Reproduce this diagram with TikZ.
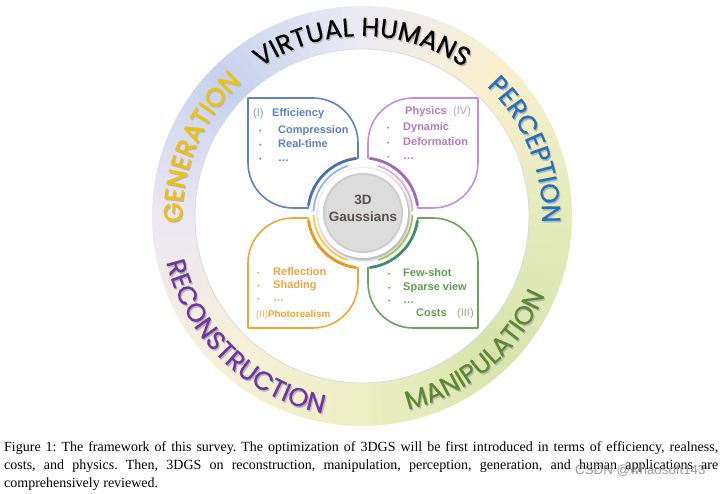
\documentclass[tikz,border=0pt]{standalone}
\usepackage{fontspec}
\setmainfont{Liberation Serif}
\newfontfamily\petalfont{Liberation Sans}
\newfontfamily\ringfont{Poppins}[FakeBold=0.5]
\usetikzlibrary{decorations.text,calc}

\definecolor{rcA}{HTML}{E4EBBC}
\definecolor{rcB}{HTML}{FAF0CC}
\definecolor{rcC}{HTML}{ECEBF5}
\definecolor{rcD}{HTML}{C6D2EE}
\definecolor{rcE}{HTML}{ECE7F2}
\definecolor{rcF}{HTML}{F7F0DA}
\definecolor{rcG}{HTML}{ECEFC2}
\definecolor{rcH}{HTML}{D8E4AC}

\definecolor{percol}{HTML}{2372B9}
\definecolor{gencol}{HTML}{F2C200}
\definecolor{reccol}{HTML}{7233A3}
\definecolor{mancol}{HTML}{5C8A2F}

\definecolor{pBlue}{HTML}{5E82C4}
\definecolor{pBlueD}{HTML}{4A6FB5}
\definecolor{pBlueL}{HTML}{93B6E4}
\definecolor{tBlue}{HTML}{5B7FC2}
\definecolor{tBlueL}{HTML}{8098CC}
\definecolor{pPur}{HTML}{C391CF}
\definecolor{pPurD}{HTML}{9C6AB6}
\definecolor{pPurL}{HTML}{D2B2DE}
\definecolor{tPur}{HTML}{B27CC0}
\definecolor{tPurL}{HTML}{C49BD0}
\definecolor{pOra}{HTML}{EDA834}
\definecolor{pOraD}{HTML}{E8961C}
\definecolor{pOraL}{HTML}{F6C846}
\definecolor{tOra}{HTML}{EBA43A}
\definecolor{tOraL}{HTML}{EDB255}
\definecolor{pGre}{HTML}{6AA35A}
\definecolor{pGreD}{HTML}{3E8C72}
\definecolor{pGreL}{HTML}{9CCB4A}
\definecolor{tGre}{HTML}{5E9E4E}
\definecolor{tGreL}{HTML}{7FB06F}
\definecolor{discgray}{HTML}{DCDCDC}
\definecolor{disctext}{HTML}{594F4F}

\newcommand{\ringfmt}{\ringfont\fontsize{26}{26}\selectfont}
\newcommand{\arctext}[5]{%
\path[decorate,decoration={text along path,text align=center,text={|\ringfmt\color{black!28}|#5}}] ($(rc)+(1.2,-1.6)+(#3:#2)$) arc[start angle=#3,end angle=#4,radius=#2];
\path[decorate,decoration={text along path,text align=center,text={|\ringfmt\color{#1}|#5}}] ($(rc)+(#3:#2)$) arc[start angle=#3,end angle=#4,radius=#2];}

\newcommand{\petalpath}{(-5,54.77) -- (-5,70) arc[start angle=0,end angle=90,radius=45] -- (-115,115) -- (-115,50) arc[start angle=180,end angle=270,radius=45] -- (-54.77,5) arc[start angle=174.78,end angle=95.22,radius=55] -- cycle}

\tikzset{
  ptxt/.style={font=\petalfont\fontsize{11}{13}\selectfont\bfseries, anchor=base west, inner sep=0pt},
  pnum/.style={font=\petalfont\fontsize{11}{13}\selectfont, anchor=base west, inner sep=0pt},
  pbul/.style={font=\petalfont\fontsize{7}{8}\selectfont, anchor=base west, inner sep=0pt},
  petal/.style={line width=1.6pt, line join=round},
  thickarc/.style={line width=2.8pt},
  thinarc/.style={line width=1.8pt},
  captxt/.style={font=\fontsize{14}{16}\selectfont, anchor=base west, inner sep=0pt}
}

\begin{document}
\frenchspacing
\begin{tikzpicture}[x=1pt,y=1pt]
\useasboundingbox (0,0) rectangle (723,494);
\coordinate (rc) at (362,278);
\coordinate (D) at (363,281);

% ---- ring with angular colour gradient
\foreach \ca/\cb [count=\i from 0] in {rcA/rcB,rcB/rcC,rcC/rcD,rcD/rcE,rcE/rcF,rcF/rcG,rcG/rcH,rcH/rcA}{
  \foreach \j in {0,3,...,42}{
    \pgfmathsetmacro\aa{\i*45+\j}
    \pgfmathsetmacro\ab{\aa+3.4}
    \pgfmathtruncatemacro\pp{\j/45*100+3}
    \fill[\cb!\pp!\ca] ($(rc)+(\aa:210)$) arc[start angle=\aa,end angle=\ab,radius=210]
      -- ($(rc)+(\ab:167)$) arc[start angle=\ab,end angle=\aa,radius=167] -- cycle;
  }
}
\draw[black!14, line width=0.8pt] (rc) circle (167);

% ---- ring texts
\arctext{black}{180}{130}{50}{VIRTUAL HUMANS}
\arctext{percol}{180}{62}{-18}{PERCEPTION}
\arctext{gencol}{180}{197}{117}{GENERATION}
\arctext{reccol}{201}{186}{266}{RECONSTRUCTION}
\arctext{mancol}{199}{270}{350}{MANIPULATION}

% ---- petals
\begin{scope}[shift={(D)}]
  \draw[petal, pBlue] \petalpath;
  \draw[thickarc, pBlueD] (97:55) arc[start angle=97,end angle=172,radius=55];
\end{scope}
\begin{scope}[shift={(D)}, xscale=-1]
  \draw[petal, pPur] \petalpath;
  \draw[thickarc, pPurD] (97:55) arc[start angle=97,end angle=172,radius=55];
\end{scope}
\begin{scope}[shift={(D)}, yscale=-1]
  \draw[petal, pOra] \petalpath;
  \draw[thickarc, pOraD] (97:55) arc[start angle=97,end angle=172,radius=55];
\end{scope}
\begin{scope}[shift={(D)}, xscale=-1, yscale=-1]
  \draw[petal, pGre] \petalpath;
  \draw[thickarc, pGreD] (97:55) arc[start angle=97,end angle=172,radius=55];
\end{scope}

% ---- central disc
\foreach \r/\o in {48/0.06,46.5/0.09,45.5/0.12}{
  \fill[black, opacity=\o] ($(D)+(1,-1.5)$) circle (\r);
}
\begin{scope}[shift={(D)}]
  \draw[thinarc, pBlueL] (108:49.5) arc[start angle=108,end angle=178,radius=49.5];
  \draw[thinarc, pPurL] (72:49.5) arc[start angle=72,end angle=2,radius=49.5];
  \draw[thinarc, pOraL] (252:49.5) arc[start angle=252,end angle=182,radius=49.5];
  \draw[thinarc, pGreL] (288:49.5) arc[start angle=288,end angle=358,radius=49.5];
\end{scope}
\fill[white] (D) circle (45);
\shade[inner color=black!10, outer color=black!20] (D) circle (40);
\fill[discgray] (D) circle (38);
\node[font=\petalfont\fontsize{13.5}{17}\selectfont\bfseries, text=disctext, align=center] (core) at ($(D)+(0,4.5)$) {3D\\Gaussians};

% ---- blue petal text
\node[pnum, text=tBlueL] (b0) at (253,377) {(I)};
\node[ptxt, text=tBlue] (b1) at (272,377) {Efficiency};
\node[pbul, text=tBlue] (bb1) at (259,360) {•};
\node[pbul, text=tBlue] (bb2) at (259,346) {•};
\node[pbul, text=tBlue] (bb3) at (259,332) {•};
\node[ptxt, text=tBlue] (b2) at (278,360) {Compression};
\node[ptxt, text=tBlue] (b3) at (278,346) {Real-time};
\node[ptxt, text=tBlue] (b4) at (278,332) {…};

% ---- purple petal text
\node[ptxt, text=tPur] (p1) at (405,379) {Physics};
\node[pnum, text=tPurL] (p0) at (453,379) {(IV)};
\node[pbul, text=tPur] (pb1) at (387,363) {•};
\node[pbul, text=tPur] (pb2) at (387,348) {•};
\node[pbul, text=tPur] (pb3) at (387,334) {•};
\node[ptxt, text=tPur] (p2) at (403,363) {Dynamic};
\node[ptxt, text=tPur] (p3) at (403,348) {Deformation};
\node[ptxt, text=tPur] (p4) at (403,334) {…};

% ---- orange petal text
\node[pbul, text=tOra] (ob1) at (257,218) {•};
\node[pbul, text=tOra] (ob2) at (257,205) {•};
\node[pbul, text=tOra] (ob3) at (257,192) {•};
\node[ptxt, text=tOra] (o2) at (273,218) {Reflection};
\node[ptxt, text=tOra] (o3) at (273,205) {Shading};
\node[ptxt, text=tOra] (o4) at (273,192) {…};
\node[ptxt, text=tOra, font=\petalfont\fontsize{9.8}{12}\selectfont\bfseries] (o1) at (256,176) {{\mdseries\color{tOraL}(II)}Photorealism};

% ---- green petal text
\node[pbul, text=tGre] (gb1) at (388,217) {•};
\node[pbul, text=tGre] (gb2) at (388,203) {•};
\node[pbul, text=tGre] (gb3) at (388,190) {•};
\node[ptxt, text=tGre] (g2) at (403,217) {Few-shot};
\node[ptxt, text=tGre] (g3) at (403,203) {Sparse view};
\node[ptxt, text=tGre] (g4) at (403,190) {…};
\node[ptxt, text=tGre] (g1) at (416,177) {Costs};
\node[pnum, text=tGreL] (g0) at (457,177) {(III)};

% ---- caption
\node[captxt] (cap1) at (4,42) {\makebox[714pt][s]{Figure 1: The framework of this survey. The optimization of 3DGS will be first introduced in terms of efficiency, realness,}};
\node[captxt] (cap2) at (4,24) {\makebox[714pt][s]{costs, and physics. Then, 3DGS on reconstruction, manipulation, perception, generation, and human applications are}};
\node[captxt] (cap3) at (4,6) {comprehensively reviewed.};

% ---- watermark
\node[font=\petalfont\fontsize{13.3}{15}\selectfont, text=black!40, anchor=base west, inner sep=0pt] (wm) at (575,19) {CSDN @whaosoft143};
\end{tikzpicture}
\end{document}
